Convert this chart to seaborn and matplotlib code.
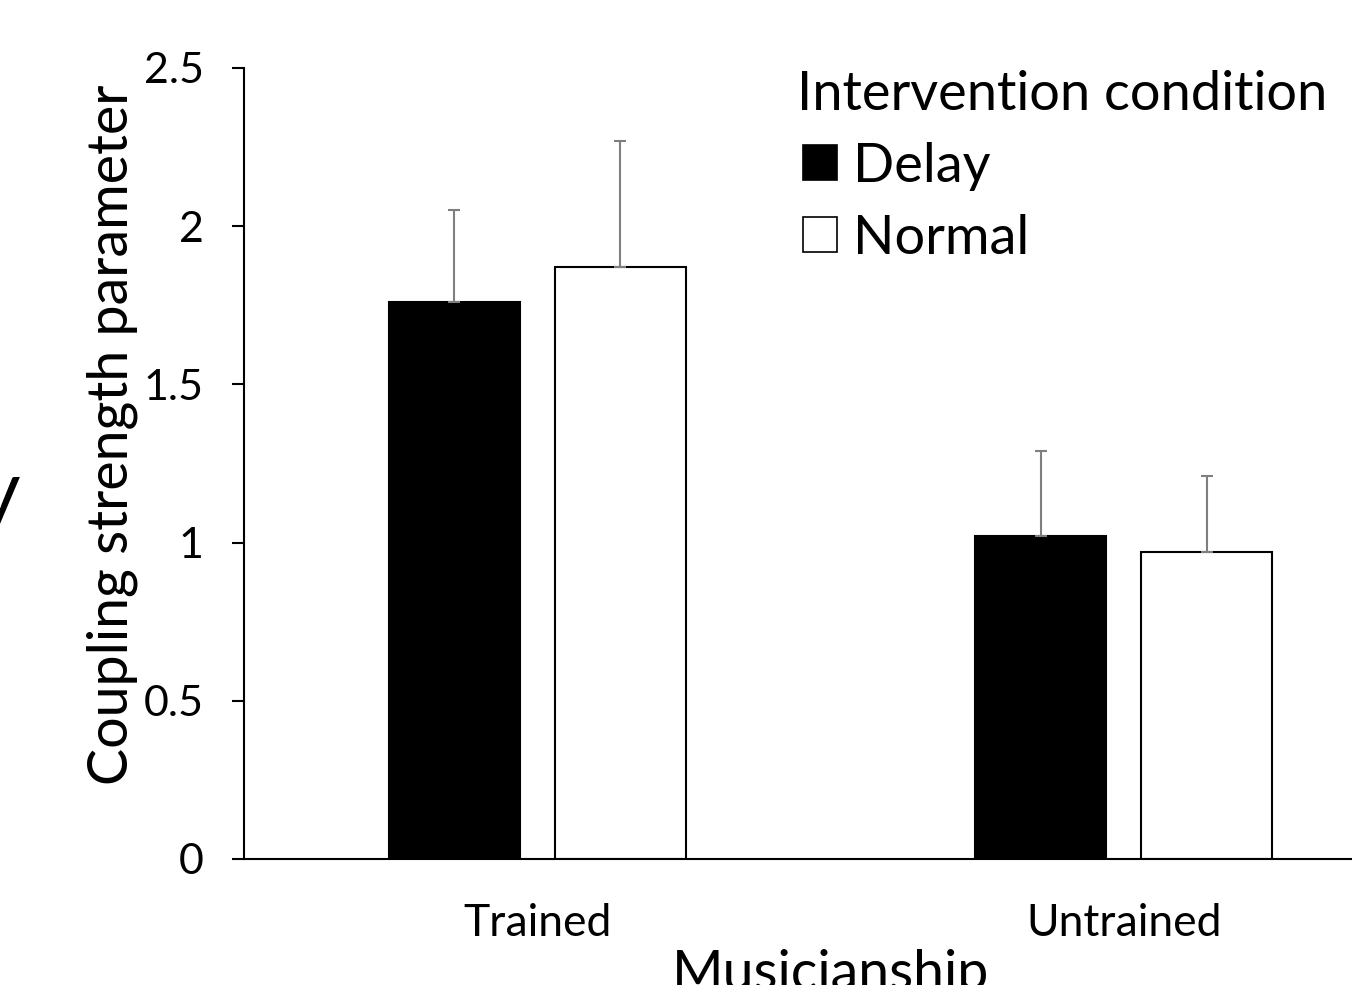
import matplotlib
matplotlib.use("Agg")
import matplotlib.pyplot as plt
import matplotlib.patches as mpatches
from matplotlib.legend_handler import HandlerPatch
import seaborn as sns
import pandas as pd
import numpy as np

# Mean coupling strength by musicianship and intervention condition
groups = ["Trained", "Untrained"]
conditions = ["Delay", "Normal"]
delay_means = [1.76, 1.02]
normal_means = [1.87, 0.97]
delay_err = [0.29, 0.27]
normal_err = [0.40, 0.24]
y_ticks = [0, 0.5, 1, 1.5, 2, 2.5]
y_tick_labels = ["0", "0.5", "1", "1.5", "2", "2.5"]

df = pd.DataFrame({
    "Musicianship": groups * 2,
    "Condition": [conditions[0]] * len(groups) + [conditions[1]] * len(groups),
    "Coupling": delay_means + normal_means,
})
errs = {"Delay": delay_err, "Normal": normal_err}
fills = {"Delay": "black", "Normal": "white"}

sns.set_theme(style="white")
plt.rcParams["font.family"] = ["Lato", "DejaVu Sans"]
plt.rcParams["text.color"] = "black"

W, H = 1352, 985
fig = plt.figure(figsize=(W / 100, H / 100), dpi=100)
fig.patch.set_facecolor("white")
ax = fig.add_axes([244 / W, 1 - 859 / H, 1173 / W, 791 / H])

sns.barplot(data=df, x="Musicianship", y="Coupling", hue="Condition",
            order=groups, hue_order=conditions, palette=fills,
            edgecolor="black", linewidth=1.5, width=0.566, gap=0.21,
            errorbar=None, legend=False, ax=ax)

# upper-only error bars
for cond, cont in zip(conditions, ax.containers):
    xs = [p.get_x() + p.get_width() / 2 for p in cont.patches]
    hs = [p.get_height() for p in cont.patches]
    e = np.array(errs[cond])
    ax.errorbar(xs, hs, yerr=[np.zeros(len(e)), e], fmt="none",
                ecolor="#7f7f7f", elinewidth=1.5, capsize=4.5,
                capthick=1.5, zorder=3)

ax.set_xlim(-0.5, 1.5)
ax.set_ylim(0, 2.5)
ax.set_yticks(y_ticks)
ax.set_yticklabels(y_tick_labels)
for s in ["top", "right"]:
    ax.spines[s].set_visible(False)
for s in ["left", "bottom"]:
    ax.spines[s].set_color("black")
    ax.spines[s].set_linewidth(1.5)
ax.tick_params(axis="y", left=True, direction="out", length=9, width=1.5,
               color="black", pad=20, labelsize=31, labelcolor="black")
ax.tick_params(axis="x", bottom=False, length=0, pad=32, labelsize=32,
               labelcolor="black")

ax.set_ylabel("Coupling strength parameter", fontsize=40, color="black")
ax.yaxis.set_label_coords(-0.09, 0.536)
ax.set_xlabel("Musicianship", fontsize=40, color="black")
ax.xaxis.set_label_coords(0.5, -0.114)


# square legend swatch, inset a little from the title's left edge
def square_swatch(legend, orig_handle, xdescent, ydescent, width, height, fontsize):
    side = height
    return mpatches.Rectangle((-xdescent + width - side, -ydescent), side, side)


handles = [mpatches.Patch(facecolor=fills[c], edgecolor="black", linewidth=1.2)
           for c in conditions]
ax.legend(handles, conditions, title="Intervention condition",
          loc="upper left", bbox_to_anchor=(797 / W, 1 - 70 / H),
          bbox_transform=fig.transFigure, frameon=False, fontsize=39,
          title_fontsize=39, handlelength=0.74, handleheight=0.6,
          handletextpad=0.3, labelspacing=0.42, borderpad=0,
          borderaxespad=0, alignment="left",
          handler_map={mpatches.Patch: HandlerPatch(patch_func=square_swatch)})

# edge of a neighbouring label
fig.text(20 / W, 1 - 517 / H, "y", fontsize=58, ha="right", va="baseline")

fig.savefig("out.png", dpi=100, facecolor="white")
